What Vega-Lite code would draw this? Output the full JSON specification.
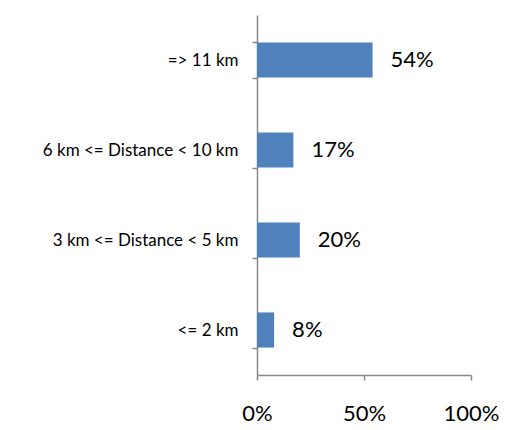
{
  "$schema": "https://vega.github.io/schema/vega-lite/v6.json",
  "width": 214,
  "height": 360,
  "autosize": {"type": "none"},
  "padding": {"left": 257, "top": 15, "right": 34, "bottom": 55},
  "background": "white",
  "config": {
    "view": {"stroke": null},
    "font": "Lato",
    "axis": {"domainColor": "#888888", "tickColor": "#888888", "grid": false, "labelColor": "#000000", "domainWidth": 1.5, "tickWidth": 1.5}
  },
  "data": {
    "values": [
      {"distance": "=> 11 km", "share": 0.54, "label": "54%"},
      {"distance": "6 km <= Distance < 10 km", "share": 0.17, "label": "17%"},
      {"distance": "3 km <= Distance < 5 km", "share": 0.20, "label": "20%"},
      {"distance": "<= 2 km", "share": 0.08, "label": "8%"}
    ]
  },
  "encoding": {
    "y": {
      "field": "distance",
      "type": "nominal",
      "sort": null,
      "title": null,
      "scale": {"paddingInner": 0.61, "paddingOuter": 0.305},
      "axis": {"tickBand": "extent", "tickSize": 5, "labelPadding": 14, "labelFontSize": 17, "labelLimit": 260}
    },
    "x": {
      "field": "share",
      "type": "quantitative",
      "title": null,
      "scale": {"domain": [0, 1], "nice": false},
      "axis": {"values": [0, 0.5, 1], "format": ".0%", "tickSize": 5, "labelPadding": 23, "labelFontSize": 22, "labelFlush": false}
    }
  },
  "layer": [
    {"mark": {"type": "bar", "color": "#4F81BD"}},
    {
      "mark": {"type": "text", "align": "left", "baseline": "middle", "dx": 18, "fontSize": 22, "color": "#000000"},
      "encoding": {"text": {"field": "label"}}
    }
  ]
}
